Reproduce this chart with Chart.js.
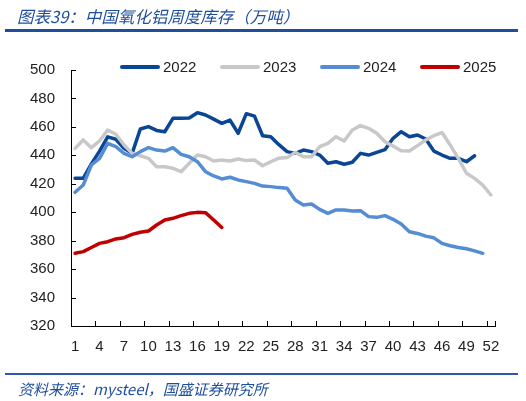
<!DOCTYPE html>
<html>
<head>
<meta charset="utf-8">
<script src="https://cdn.jsdelivr.net/npm/chart.js@4.4.1/dist/chart.umd.min.js"></script>
<style>
    body { margin: 0; background: #fff; }
    #wrap { position: relative; width: 526px; height: 401px; overflow: hidden; }
    #title { position: absolute; left: 17px; top: 4px; font: italic 16.5px "Noto Sans CJK SC"; color: #1f4e9c; white-space: nowrap; }
    #rule-top { position: absolute; left: 5px; top: 29px; width: 513px; height: 3px; background: #1f4e9c; }
    #rule-bottom { position: absolute; left: 5px; top: 373px; width: 513px; height: 2px; background: #2a5aa8; }
    #source { position: absolute; left: 18px; top: 378px; font: italic 15px "Noto Sans CJK SC"; color: #1f4e9c; white-space: nowrap; }
    #legend { position: absolute; left: 0; top: 57px; height: 20px; width: 526px; }
    .item { position: absolute; top: 0; height: 20px; }
    .item .swatch { position: absolute; left: 0; top: 8px; width: 40px; height: 4px; border-radius: 2px; }
    .item .label { position: absolute; left: 43px; top: 1px; font: 15px "Liberation Sans"; color: #222; line-height: 18px; }
    canvas { position: absolute; left: 0; top: 0; }
</style>
</head>
<body>
<div id="wrap">
    <canvas id="chart" width="526" height="401"></canvas>
    <div id="title">图表39：中国氧化铝周度库存（万吨）</div>
    <div id="rule-top"></div>
    <div id="legend"></div>
    <div id="rule-bottom"></div>
    <div id="source">资料来源：mysteel，国盛证券研究所</div>
</div>
<script>
// weeks 1..52
const weeks = ['1','2','3','4','5','6','7','8','9','10','11','12','13','14','15','16','17','18','19','20',
    '21','22','23','24','25','26','27','28','29','30','31','32','33','34','35','36','37','38','39','40',
    '41','42','43','44','45','46','47','48','49','50','51','52'];

const seriesNames = ['2022', '2023', '2024', '2025'];
const seriesColors = ['#0b4596', '#c8c8c8', '#548dd4', '#c00000'];

// inventory, 10k tonnes
const inv2022 = [423.8, 423.8, 434, 443, 453, 451.3, 445, 441.4, 458.5, 460.2,
    457.5, 456.6, 466, 466, 466.3, 470, 468.4, 465.5, 462.5, 464.8,
    455.5, 469.3, 467.6, 453.8, 453.1, 447.5, 442.6, 441.4, 443.7, 442.6,
    440.2, 434.4, 435.5, 433.7, 435.1, 441.4, 440.2, 442.1, 444, 452,
    456.6, 453.1, 454.3, 451.5, 443, 440.2, 437.9, 437.9, 435.5, 439.7];
const inv2023 = [444.9, 450.8, 445.4, 450.1, 457.8, 454.8, 447.3, 441.4, 439.7, 437.9,
    432, 432, 430.9, 428.5, 434.4, 440.2, 439, 436, 436.7, 436,
    437.4, 436.3, 436.7, 432.7, 435.5, 438, 438.4, 442.1, 439, 439,
    446.1, 448.4, 453.1, 450.1, 457.8, 460.9, 459, 455.5, 449.5, 446.5,
    443.2, 443, 446.8, 450.8, 453.8, 456, 447.3, 437.9, 427.4, 423.8,
    419.1, 412.1];
const inv2024 = [414, 419.1, 433.2, 437.9, 448.4, 446.1, 441.4, 439, 442.6, 445.4,
    443.7, 443, 445.4, 440.7, 439, 435.5, 428.5, 425.5, 423.4, 424.6,
    422.7, 421.5, 420.3, 418.4, 418, 417.3, 416.8, 408.6, 405.1, 405.8,
    402, 399.2, 401.6, 401.6, 400.9, 401.1, 396.9, 396.4, 397.6, 395,
    391.7, 386.3, 385.1, 383.2, 382, 378.1, 376.4, 375.2, 374.3, 372.8,
    371.1];
const inv2025 = [371.1, 372.3, 375.2, 378.1, 379.3, 381.2, 382.1, 384.4, 385.9, 386.8,
    391, 394.5, 395.7, 397.6, 399.2, 399.9, 399.7, 394.5, 389.3];

const yTicks = [320, 340, 360, 380, 400, 420, 440, 460, 480, 500];

const allSeries = [inv2022, inv2023, inv2024, inv2025];

// legend
const legendBox = document.getElementById('legend');
seriesNames.forEach((name, i) => {
    const item = document.createElement('div');
    item.className = 'item';
    item.style.left = (120 + i * 100) + 'px';
    item.innerHTML = `<span class="swatch" style="background:${seriesColors[i]}"></span><span class="label">${name}</span>`;
    legendBox.appendChild(item);
});

// tick marks pointing into the plot, like the original
const innerTicks = {
    id: 'innerTicks',
    afterDraw(chart) {
        const ctx = chart.ctx;
        const xs = chart.scales.x;
        const ys = chart.scales.y;
        const area = chart.chartArea;
        ctx.save();
        ctx.strokeStyle = '#000';
        ctx.lineWidth = 1;
        ctx.beginPath();
        yTicks.forEach(v => {
            const y = Math.round(ys.getPixelForValue(v)) + 0.5;
            ctx.moveTo(area.left, y);
            ctx.lineTo(area.left + 5, y);
        });
        const half = (xs.getPixelForValue(1) - xs.getPixelForValue(0)) / 2;
        for (let i = 0; i < weeks.length; i += 3) {
            const x = Math.round(xs.getPixelForValue(i) - half) + 0.5;
            ctx.moveTo(x, area.bottom);
            ctx.lineTo(x, area.bottom - 5);
        }
        const xEnd = Math.round(area.right) + 0.5;
        ctx.moveTo(xEnd, area.bottom);
        ctx.lineTo(xEnd, area.bottom - 5);
        ctx.stroke();
        ctx.restore();
    }
};

new Chart(document.getElementById('chart'), {
    type: 'line',
    data: {
        labels: weeks,
        datasets: allSeries.map((data, i) => ({
            label: seriesNames[i],
            data: data,
            borderColor: seriesColors[i],
            backgroundColor: seriesColors[i],
            borderWidth: 3.5,
            pointRadius: 0,
            tension: 0,
            borderJoinStyle: 'round',
            borderCapStyle: 'round',
            order: 3 - i
        }))
    },
    options: {
        responsive: false,
        animation: false,
        devicePixelRatio: 1,
        layout: { padding: { left: 0, top: 70, right: 31, bottom: 0 } },
        plugins: {
            legend: { display: false },
            tooltip: { enabled: false }
        },
        scales: {
            x: {
                offset: true,
                grid: { display: true, drawOnChartArea: false, drawTicks: false, offset: true },
                border: { display: true, color: '#000', width: 1 },
                ticks: {
                    autoSkip: false,
                    maxRotation: 0,
                    padding: 12,
                    color: '#222',
                    font: { family: 'Liberation Sans', size: 15 },
                    callback: (val, idx) => (idx % 3 === 0 ? weeks[idx] : null)
                },
                afterFit: s => { s.height = 75; }
            },
            y: {
                min: 320,
                max: 500,
                grid: { display: true, drawOnChartArea: false, drawTicks: false },
                border: { display: true, color: '#000', width: 1 },
                ticks: {
                    stepSize: 20,
                    padding: 16,
                    color: '#222',
                    font: { family: 'Liberation Sans', size: 15 }
                },
                afterFit: s => { s.width = 71; }
            }
        }
    },
    plugins: [innerTicks]
});
</script>
</body>
</html>
